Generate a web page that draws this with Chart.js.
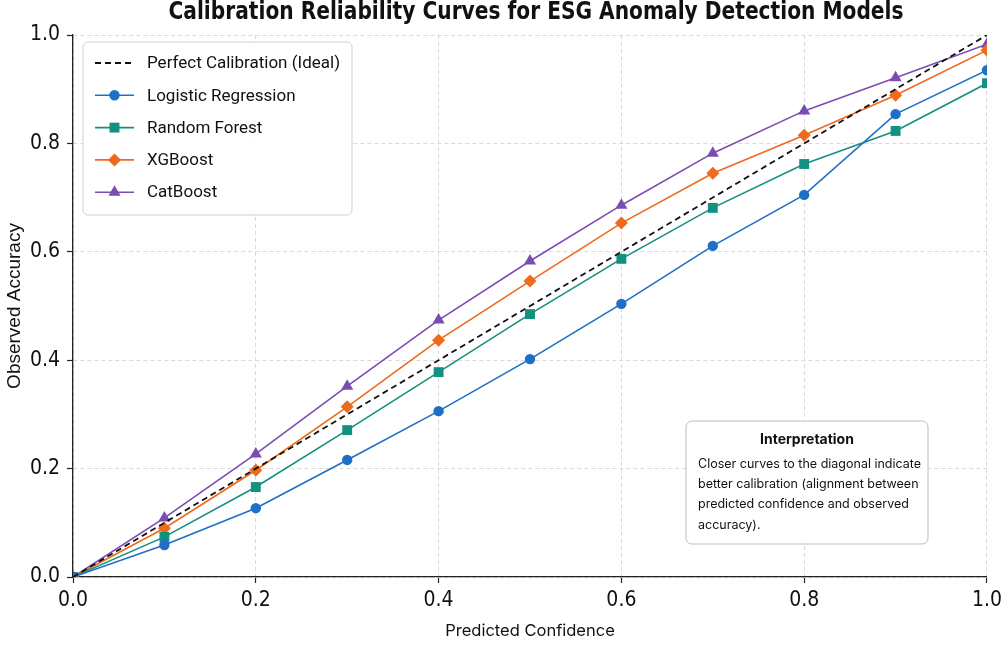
<!DOCTYPE html>
<html>
<head>
<meta charset="utf-8">
<script src="https://cdn.jsdelivr.net/npm/chart.js@4.4.1/dist/chart.umd.min.js"></script>
<style>
  html, body { margin: 0; padding: 0; background: #fff; }
  #wrap { width: 1007px; height: 645px; position: relative; }
</style>
</head>
<body>
<div id="wrap"><canvas id="c" width="1007" height="645"></canvas></div>
<script>
// ---- Data ----
const titleText = 'Calibration Reliability Curves for ESG Anomaly Detection Models';
const xAxisLabel = 'Predicted Confidence';
const yAxisLabel = 'Observed Accuracy';
const tickValues = [0.0, 0.2, 0.4, 0.6, 0.8, 1.0];
const confidence = [0.0, 0.1, 0.2, 0.3, 0.4, 0.5, 0.6, 0.7, 0.8, 0.9, 1.0];
const idealX = [0.0, 1.0];
const idealY = [0.0, 1.0];
const logisticRegression = [0.0, 0.059, 0.127, 0.216, 0.306, 0.402, 0.504, 0.611, 0.705, 0.854, 0.935];
const randomForest       = [0.0, 0.074, 0.166, 0.271, 0.378, 0.485, 0.587, 0.681, 0.762, 0.823, 0.911];
const xgboost            = [0.0, 0.090, 0.197, 0.314, 0.437, 0.546, 0.653, 0.745, 0.815, 0.889, 0.972];
const catboost           = [0.0, 0.109, 0.227, 0.352, 0.474, 0.583, 0.686, 0.782, 0.860, 0.921, 0.983];
const seriesNames = ['Perfect Calibration (Ideal)', 'Logistic Regression', 'Random Forest', 'XGBoost', 'CatBoost'];
const noteTitle = 'Interpretation';
const noteLines = ['Closer curves to the diagonal indicate', 'better calibration (alignment between', 'predicted confidence and observed', 'accuracy).'];

// ---- Styles ----
const colors = { ideal: '#111111', lr: '#1f6fc6', rf: '#13907f', xgb: '#ee6a1c', cat: '#7b4cb2' };
const tickFont = '"Liberation Sans Narrow", "DejaVu Sans Condensed", "Liberation Sans", sans-serif';

function pts(xs, ys) { return xs.map((x, i) => ({ x: x, y: ys[i] })); }

const datasets = [
  { label: seriesNames[0], data: pts(idealX, idealY), borderColor: colors.ideal, backgroundColor: colors.ideal,
    borderDash: [6, 4], borderWidth: 1.8, pointRadius: 0, pointStyle: false },
  { label: seriesNames[1], data: pts(confidence, logisticRegression), borderColor: colors.lr, backgroundColor: colors.lr,
    borderWidth: 1.6, pointStyle: 'circle', pointRadius: 5.2, pointBorderWidth: 0 },
  { label: seriesNames[2], data: pts(confidence, randomForest), borderColor: colors.rf, backgroundColor: colors.rf,
    borderWidth: 1.6, pointStyle: 'rect', pointRadius: 7, pointBorderWidth: 0 },
  { label: seriesNames[3], data: pts(confidence, xgboost), borderColor: colors.xgb, backgroundColor: colors.xgb,
    borderWidth: 1.6, pointStyle: 'rectRot', pointRadius: 6.5, pointBorderWidth: 0 },
  { label: seriesNames[4], data: pts(confidence, catboost), borderColor: colors.cat, backgroundColor: colors.cat,
    borderWidth: 1.6, pointStyle: 'triangle', pointRadius: 7, pointBorderWidth: 0 }
];

function drawMarker(ctx, style, r, x, y, color) {
  ctx.save();
  ctx.fillStyle = color;
  ctx.beginPath();
  if (style === 'circle') {
    ctx.arc(x, y, r, 0, Math.PI * 2);
  } else if (style === 'rect') {
    const s = r * Math.SQRT1_2;
    ctx.rect(x - s, y - s, 2 * s, 2 * s);
  } else if (style === 'rectRot') {
    ctx.moveTo(x, y - r); ctx.lineTo(x + r, y); ctx.lineTo(x, y + r); ctx.lineTo(x - r, y); ctx.closePath();
  } else if (style === 'triangle') {
    ctx.moveTo(x, y - r);
    ctx.lineTo(x + r * Math.cos(Math.PI / 6), y + r * 0.5);
    ctx.lineTo(x - r * Math.cos(Math.PI / 6), y + r * 0.5);
    ctx.closePath();
  }
  ctx.fill();
  ctx.restore();
}

function roundRect(ctx, x, y, w, h, r) {
  ctx.beginPath();
  ctx.moveTo(x + r, y);
  ctx.lineTo(x + w - r, y); ctx.arcTo(x + w, y, x + w, y + r, r);
  ctx.lineTo(x + w, y + h - r); ctx.arcTo(x + w, y + h, x + w - r, y + h, r);
  ctx.lineTo(x + r, y + h); ctx.arcTo(x, y + h, x, y + h - r, r);
  ctx.lineTo(x, y + r); ctx.arcTo(x, y, x + r, y, r);
  ctx.closePath();
}

const overlayPlugin = {
  id: 'overlay',
  afterDraw(chart) {
    const ctx = chart.ctx;
    const area = chart.chartArea;
    // Title (horizontally condensed bold)
    ctx.save();
    ctx.fillStyle = '#111';
    ctx.font = 'bold 25px "DejaVu Sans Condensed", "Liberation Sans Narrow", "Roboto", sans-serif';
    ctx.textAlign = 'center';
    ctx.textBaseline = 'middle';
    const tw = ctx.measureText(titleText).width;
    const sx = Math.min(1, 735 / tw);
    ctx.translate((area.left + area.right) / 2 + 6, 12);
    ctx.scale(sx, 1);
    ctx.fillText(titleText, 0, 0);
    ctx.restore();

    // Legend box
    const lx = area.left + 10, ly = area.top + 7, lw = 269, lh = 173;
    ctx.save();
    roundRect(ctx, lx, ly, lw, lh, 5);
    ctx.fillStyle = 'rgba(255,255,255,0.85)';
    ctx.fill();
    ctx.strokeStyle = '#cfcfcf';
    ctx.lineWidth = 1;
    ctx.stroke();
    ctx.font = '17px "Liberation Sans Narrow", "Roboto", "Liberation Sans", sans-serif';
    ctx.textBaseline = 'middle';
    ctx.textAlign = 'left';
    chart.data.datasets.forEach((ds, i) => {
      const y = ly + 21 + i * 32.3;
      const x0 = lx + 12, x1 = lx + 51;
      ctx.save();
      ctx.strokeStyle = ds.borderColor;
      ctx.lineWidth = ds.borderWidth;
      ctx.setLineDash(ds.borderDash || []);
      ctx.beginPath(); ctx.moveTo(x0, y); ctx.lineTo(x1, y); ctx.stroke();
      ctx.restore();
      if (ds.pointStyle) drawMarker(ctx, ds.pointStyle, ds.pointRadius, (x0 + x1) / 2, y, ds.backgroundColor);
      ctx.fillStyle = '#111';
      ctx.fillText(ds.label, lx + 64, y + 1);
    });
    ctx.restore();

    // Interpretation box
    const bx = 686, by = 421, bw = 242, bh = 123;
    ctx.save();
    roundRect(ctx, bx, by, bw, bh, 6);
    ctx.fillStyle = 'rgba(255,255,255,0.92)';
    ctx.fill();
    ctx.strokeStyle = '#bdbdbd';
    ctx.lineWidth = 1;
    ctx.stroke();
    ctx.fillStyle = '#111';
    ctx.textBaseline = 'middle';
    ctx.textAlign = 'center';
    ctx.font = 'bold 14px "Inter", "Roboto", sans-serif';
    ctx.fillText(noteTitle, bx + bw / 2, by + 19);
    ctx.textAlign = 'left';
    ctx.font = '12.5px "Inter", "Roboto", sans-serif';
    noteLines.forEach((t, i) => ctx.fillText(t, bx + 12, by + 43 + i * 20.3));
    ctx.restore();
  }
};

const axisCommon = {
  type: 'linear',
  min: 0, max: 1,
  grid: {
    color: '#d9d9d9', lineWidth: 1,
    drawTicks: true, tickLength: 6, tickColor: '#222', tickWidth: 1.2, tickBorderDash: []
  },
  border: { display: true, color: '#222', width: 1.3, dash: [4, 3] },
  ticks: {
    color: '#111', font: { family: tickFont, size: 21 },
    stepSize: 0.2,
    callback: (v) => v.toFixed(1)
  }
};

new Chart(document.getElementById('c'), {
  type: 'line',
  data: { datasets: datasets },
  options: {
    responsive: false,
    animation: false,
    devicePixelRatio: 1,
    layout: { padding: { top: 35, right: 17, left: 0, bottom: 0 } },
    plugins: { legend: { display: false }, title: { display: false }, tooltip: { enabled: false } },
    elements: { line: { tension: 0 } },
    scales: {
      x: Object.assign({}, axisCommon, {
        afterBuildTicks: (s) => { s.ticks = tickValues.map(v => ({ value: v })); },
        ticks: Object.assign({}, axisCommon.ticks, { padding: 5, maxRotation: 0 }),
        title: { display: true, text: xAxisLabel, color: '#111', font: { family: '"Inter", "Roboto", sans-serif', size: 16.5 }, padding: { top: 4, bottom: 4 } },
        afterFit: (s) => { s.height = 68; }
      }),
      y: Object.assign({}, axisCommon, {
        afterBuildTicks: (s) => { s.ticks = tickValues.map(v => ({ value: v })); },
        ticks: Object.assign({}, axisCommon.ticks, { padding: 7 }),
        title: { display: true, text: yAxisLabel, color: '#111', font: { family: '"Liberation Sans", sans-serif', size: 19 }, padding: { top: 3, bottom: 0 } },
        afterFit: (s) => { s.width = 73; }
      })
    }
  },
  plugins: [overlayPlugin]
});
</script>
</body>
</html>
